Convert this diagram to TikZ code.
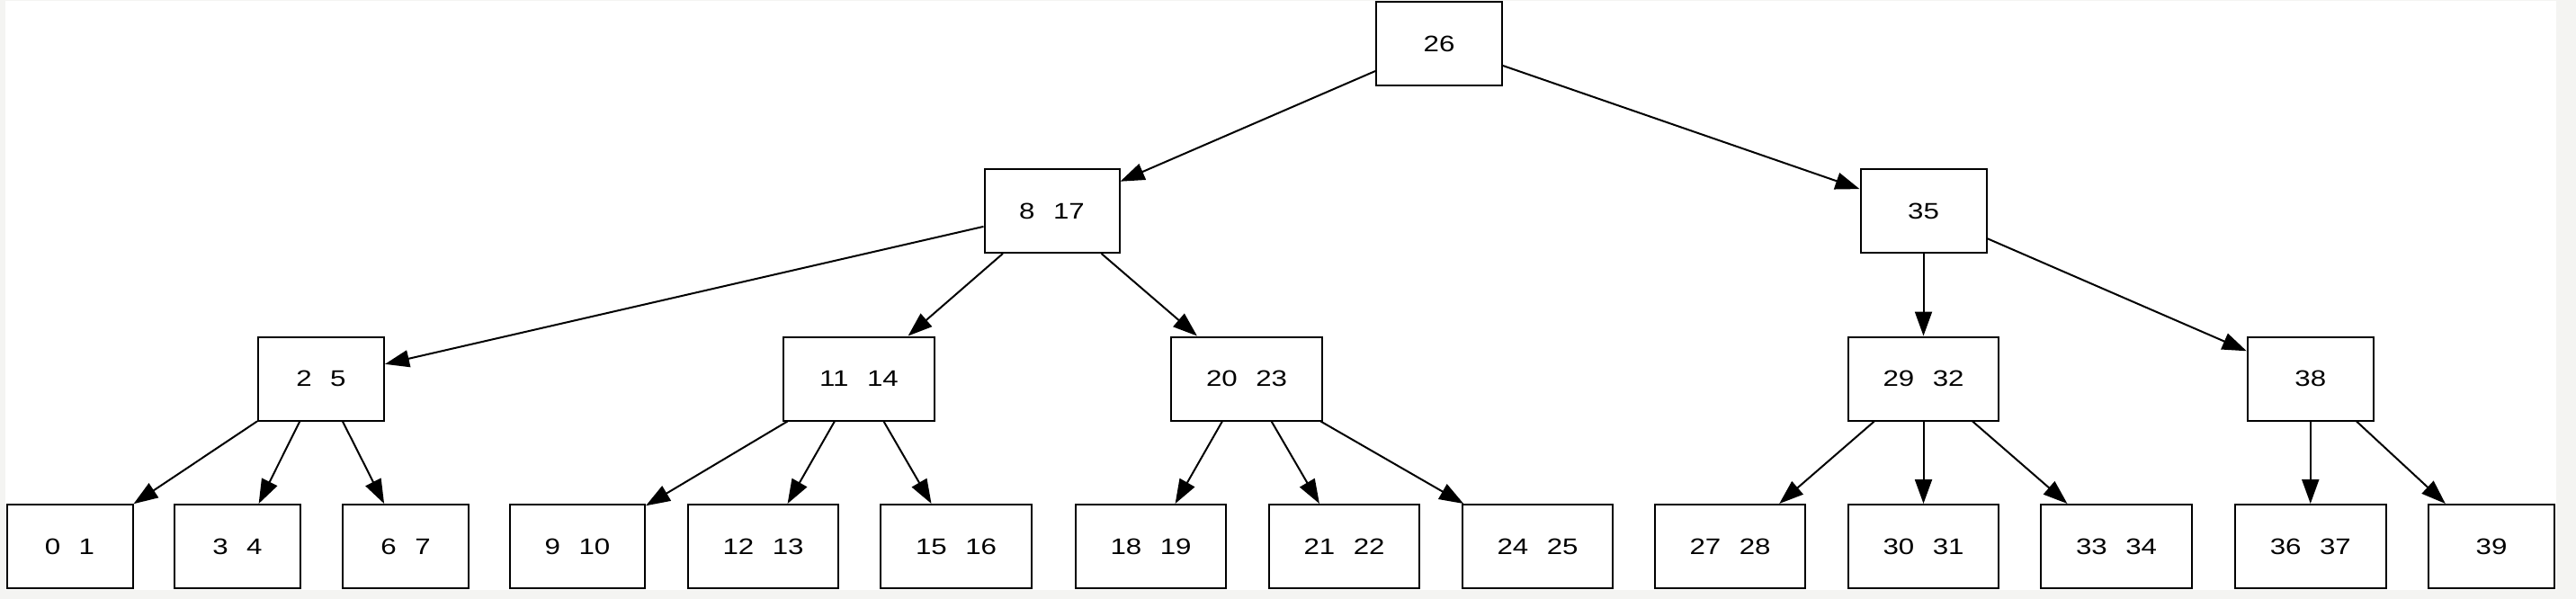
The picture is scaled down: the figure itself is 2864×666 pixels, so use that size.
\documentclass[tikz,border=0pt]{standalone}
\usepackage{fontspec}
\usetikzlibrary{arrows.meta}
\newfontfamily\lab[FakeStretch=1.25]{Liberation Sans}
\definecolor{pagegray}{HTML}{F4F4F2}
\newcommand{\kgap}{\hspace{20.5pt}}
\begin{document}
\begin{tikzpicture}[x=1pt,y=-1pt,
  keybox/.style={draw=black, line width=2pt, fill=white, minimum height=93pt, inner sep=0pt,
    font=\lab\fontsize{25pt}{30pt}\selectfont},
  wtwo/.style={keybox, minimum width=140pt},
  wthree/.style={keybox, minimum width=150pt},
  wfour/.style={keybox, minimum width=167.5pt},
  link/.style={draw=black, line width=2pt, -{Triangle[length=27pt,width=19pt]}}]
\useasboundingbox (0,0) rectangle (2864,666);
\fill[pagegray] (0,0) rectangle (2864,666);
\fill[white] (6,1) rectangle (2842,655.5);
% level 1
\node[wtwo] (n26) at (1600,48.5) {26};
% level 2
\node[wthree] (n8) at (1169.5,234.5) {8\kgap 17};
\node[wtwo] (n35) at (2138.5,234.5) {35};
% level 3
\node[wtwo] (n2) at (357,421) {2\kgap 5};
\node[wfour] (n11) at (955,421) {11\kgap 14};
\node[wfour] (n20) at (1386,421) {20\kgap 23};
\node[wfour] (n29) at (2138.5,421) {29\kgap 32};
\node[wtwo] (n38) at (2568.75,421) {38};
% leaves
\node[wtwo] (l0) at (77.5,607.5) {0\kgap 1};
\node[wtwo] (l3) at (264,607.5) {3\kgap 4};
\node[wtwo] (l6) at (451,607.5) {6\kgap 7};
\node[wthree] (l9) at (642,607.5) {9\kgap 10};
\node[wfour] (l12) at (848.5,607.5) {12\kgap 13};
\node[wfour] (l15) at (1063,607.5) {15\kgap 16};
\node[wfour] (l18) at (1279.5,607.5) {18\kgap 19};
\node[wfour] (l21) at (1494.5,607.5) {21\kgap 22};
\node[wfour] (l24) at (1709.5,607.5) {24\kgap 25};
\node[wfour] (l27) at (1923.5,607.5) {27\kgap 28};
\node[wfour] (l30) at (2138.5,607.5) {30\kgap 31};
\node[wfour] (l33) at (2353,607.5) {33\kgap 34};
\node[wfour] (l36) at (2568.75,607.5) {36\kgap 37};
\node[wtwo] (l39) at (2770,607.5) {39};
% connectors
\draw[link] (n26) -- (n8);
\draw[link] (n26) -- (n35);
\draw[link] (n8) -- (n2);
\draw[link] (n8) -- (n11);
\draw[link] (n8) -- (n20);
\draw[link] (n35) -- (n29);
\draw[link] (n35) -- (n38);
\draw[link] (n2) -- (l0);
\draw[link] (n2) -- (l3);
\draw[link] (n2) -- (l6);
\draw[link] (n11) -- (l9);
\draw[link] (n11) -- (l12);
\draw[link] (n11) -- (l15);
\draw[link] (n20) -- (l18);
\draw[link] (n20) -- (l21);
\draw[link] (n20) -- (l24);
\draw[link] (n29) -- (l27);
\draw[link] (n29) -- (l30);
\draw[link] (n29) -- (l33);
\draw[link] (n38) -- (l36);
\draw[link] (n38) -- (l39);
\end{tikzpicture}
\end{document}
